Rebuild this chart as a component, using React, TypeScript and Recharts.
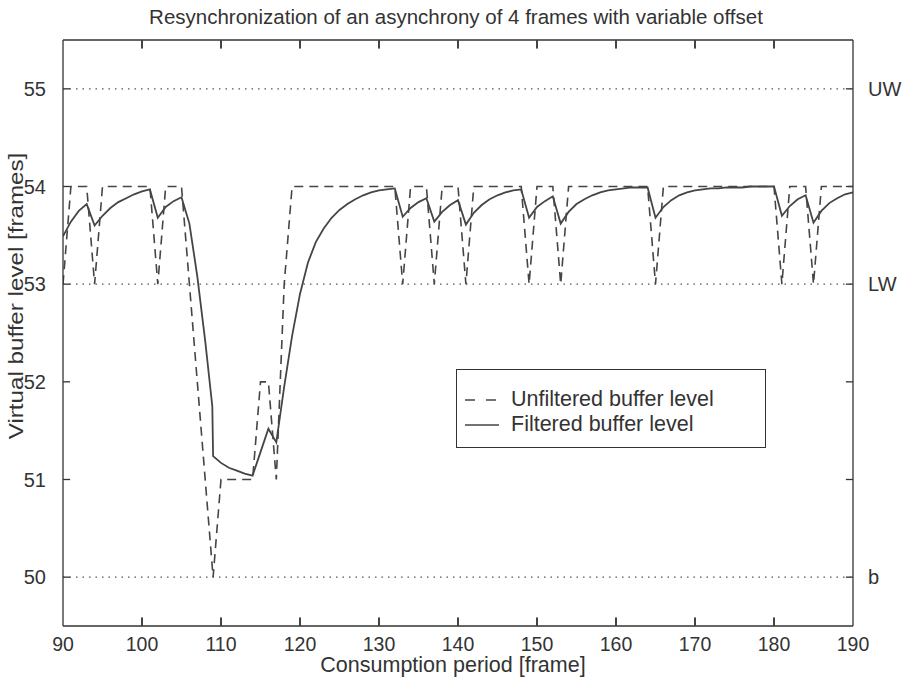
import React from "react";
import {
  LineChart,
  Line,
  XAxis,
  YAxis,
  ReferenceLine,
  Legend,
} from "recharts";

const frames = [
  90, 91, 92, 93, 94, 95, 96, 97, 98, 99, 100, 101, 102, 103, 104, 105, 106, 107, 108, 109,
  110, 111, 112, 113, 114, 115, 116, 117, 118, 119, 120, 121, 122, 123, 124, 125, 126, 127, 128, 129,
  130, 131, 132, 133, 134, 135, 136, 137, 138, 139, 140, 141, 142, 143, 144, 145, 146, 147, 148, 149,
  150, 151, 152, 153, 154, 155, 156, 157, 158, 159, 160, 161, 162, 163, 164, 165, 166, 167, 168, 169,
  170, 171, 172, 173, 174, 175, 176, 177, 178, 179, 180, 181, 182, 183, 184, 185, 186, 187, 188, 189,
  190,
];

const unfilteredLevel = [
  53, 54, 54, 54, 53, 54, 54, 54, 54, 54, 54, 54, 53, 54, 54, 54, 53, 52, 51, 50,
  51, 51, 51, 51, 51, 52, 52, 51, 53, 54, 54, 54, 54, 54, 54, 54, 54, 54, 54, 54,
  54, 54, 54, 53, 54, 54, 54, 53, 54, 54, 54, 53, 54, 54, 54, 54, 54, 54, 54, 53,
  54, 54, 54, 53, 54, 54, 54, 54, 54, 54, 54, 54, 54, 54, 54, 53, 54, 54, 54, 54,
  54, 54, 54, 54, 54, 54, 54, 54, 54, 54, 54, 53, 54, 54, 54, 53, 54, 54, 54, 54,
  54,
];

// filtered curve has an extra sample just before frame 109 (the near-vertical drop)
const filteredFrames = [
  90, 91, 92, 93, 94, 95, 96, 97, 98, 99, 100, 101, 102, 103, 104, 105, 106, 107, 108, 108.9, 109,
  110, 111, 112, 113, 114, 115, 116, 117, 118, 119, 120, 121, 122, 123, 124, 125, 126, 127, 128, 129,
  130, 131, 132, 133, 134, 135, 136, 137, 138, 139, 140, 141, 142, 143, 144, 145, 146, 147, 148, 149,
  150, 151, 152, 153, 154, 155, 156, 157, 158, 159, 160, 161, 162, 163, 164, 165, 166, 167, 168, 169,
  170, 171, 172, 173, 174, 175, 176, 177, 178, 179, 180, 181, 182, 183, 184, 185, 186, 187, 188, 189,
  190,
];

const filteredLevel = [
  53.49, 53.64, 53.75, 53.82, 53.6, 53.7, 53.78, 53.84, 53.88, 53.92, 53.95, 53.97, 53.68, 53.79, 53.85, 53.89, 53.62, 53.08, 52.42, 51.75, 51.24,
  51.17, 51.12, 51.09, 51.06, 51.04, 51.28, 51.52, 51.38, 51.95, 52.47, 52.9, 53.22, 53.43, 53.57, 53.68, 53.76, 53.82, 53.87, 53.91, 53.94,
  53.96, 53.97, 53.98, 53.69, 53.78, 53.84, 53.88, 53.64, 53.74, 53.81, 53.86, 53.61, 53.73, 53.81, 53.87, 53.91, 53.94, 53.96, 53.97, 53.68,
  53.79, 53.85, 53.9, 53.62, 53.74, 53.82, 53.87, 53.91, 53.94, 53.96, 53.97, 53.98, 53.99, 53.99, 53.99, 53.68, 53.79, 53.86, 53.91, 53.94,
  53.96, 53.97, 53.98, 53.98, 53.99, 53.99, 53.99, 54, 54, 54, 54, 53.7, 53.8, 53.87, 53.91, 53.63, 53.75, 53.83, 53.88, 53.92,
  53.94,
];

const xTicks = [90, 100, 110, 120, 130, 140, 150, 160, 170, 180, 190];
const yTicks = [50, 51, 52, 53, 54, 55];
const thresholds = [
  { level: 55, name: "UW" },
  { level: 53, name: "LW" },
  { level: 50, name: "b" },
];

const unfilteredData = frames.map((frame, i) => ({ frame, level: unfilteredLevel[i] }));
const filteredData = filteredFrames.map((frame, i) => ({ frame, level: filteredLevel[i] }));

const ink = "#333";
const lineInk = "#454545";
const font = "'Liberation Sans', Arial, Helvetica, sans-serif";
const xDomain = [90, 190];
const yDomain = [49.5, 55.5];
const xTickLen = 0.9; // ~7px in frame units, for the left/right inward ticks
const yTickLen = 0.08; // ~8px in level units, for the top/bottom inward ticks

const PLOT_TOP = 40;
const X_AXIS_H = 55;
const PLOT_H = 681 - PLOT_TOP - X_AXIS_H;
const TICK_SIZE = 6;
const TICK_MARGIN = 5;

// bottom tick label, plus inward tick marks on the bottom and top edges
function FrameTick(props: any) {
  const { x, y, payload } = props;
  const edge = y - TICK_SIZE - TICK_MARGIN; // bottom edge of the plot
  const inner = payload.value !== xDomain[0] && payload.value !== xDomain[1];
  return (
    <g>
      {inner && <rect x={x - 0.7} y={edge - 8} width={1.4} height={8} fill={ink} />}
      {inner && <rect x={x - 0.7} y={edge - PLOT_H} width={1.4} height={8} fill={ink} />}
      <text x={x} y={y} dy="0.71em" textAnchor="middle" fill={ink} fontSize={19.5} fontFamily={font}>
        {payload.value}
      </text>
    </g>
  );
}

function LegendBox(props: any) {
  const payload = [...(props.payload || [])].sort((a: any, b: any) =>
    a.value.startsWith("Unfiltered") ? -1 : b.value.startsWith("Unfiltered") ? 1 : 0
  );
  return (
    <div
      style={{
        width: 310,
        height: 79,
        boxSizing: "border-box",
        border: `1.5px solid ${ink}`,
        background: "#fff",
        paddingTop: 17,
        fontFamily: font,
        fontSize: 21.5,
        color: ink,
      }}
    >
      {payload.map((entry: any) => (
        <div key={entry.value} style={{ display: "flex", alignItems: "center", height: 25 }}>
          <svg width={48} height={10} style={{ marginLeft: 6 }}>
            <line
              x1={2}
              x2={36}
              y1={5}
              y2={5}
              stroke={lineInk}
              strokeWidth={1.6}
              strokeDasharray={entry.value.startsWith("Unfiltered") ? "10 11" : undefined}
            />
          </svg>
          <span>{entry.value}</span>
        </div>
      ))}
    </div>
  );
}

function YTitle(props: any) {
  const vb = props.viewBox || { x: 0, y: 40, width: 63, height: 586 };
  const cx = vb.x + 16;
  const cy = vb.y + vb.height / 2 - 37;
  return (
    <text
      x={0}
      y={0}
      transform={`translate(${cx}, ${cy}) rotate(-90) scale(1.24, 1)`}
      textAnchor="middle"
      dominantBaseline="central"
      fill={ink}
      fontSize={19.5}
      fontFamily={font}
    >
      Virtual buffer level [frames]
    </text>
  );
}

export default function App() {
  const innerX = xTicks.slice(1, -1);
  return (
    <div style={{ position: "absolute", left: 0, top: 0, width: 909, height: 681, background: "#fff", fontFamily: font }}>
      <div
        style={{
          position: "absolute",
          top: 5,
          left: 0,
          width: 912,
          textAlign: "center",
          fontSize: 20.5,
          color: ink,
        }}
      >
        Resynchronization of an asynchrony of 4 frames with variable offset
      </div>
      <LineChart width={909} height={681} margin={{ top: PLOT_TOP, right: 0, bottom: 0, left: 0 }}>
        <XAxis
          xAxisId="bottom"
          type="number"
          dataKey="frame"
          domain={xDomain}
          ticks={xTicks}
          interval={0}
          allowDataOverflow
          height={X_AXIS_H}
          tickLine={false}
          tickSize={TICK_SIZE}
          tickMargin={TICK_MARGIN}
          stroke={ink}
          strokeWidth={1.3}
          tick={<FrameTick />}
          label={{ value: "Consumption period [frame]", position: "insideBottom", offset: 9, dx: -5, fill: ink, fontSize: 21.5, fontFamily: font }}
        />
        <YAxis
          yAxisId="left"
          type="number"
          domain={yDomain}
          ticks={yTicks}
          allowDataOverflow
          width={63}
          tickLine={false}
          tickSize={6}
          tickMargin={11}
          stroke={ink}
          strokeWidth={1.3}
          tick={{ fill: ink, fontSize: 20, fontFamily: font }}
          label={<YTitle />}
        />
        {/* top and right edges of the box */}
        <XAxis
          xAxisId="top"
          orientation="top"
          mirror
          type="number"
          domain={xDomain}
          ticks={xTicks}
          allowDataOverflow
          height={1}
          tickLine={false}
          tick={false}
          stroke={ink}
          strokeWidth={1.3}
        />
        <YAxis
          yAxisId="right"
          orientation="right"
          mirror
          type="number"
          domain={yDomain}
          ticks={yTicks}
          allowDataOverflow
          width={1}
          tickLine={false}
          tick={false}
          stroke={ink}
          strokeWidth={1.3}
        />
        <YAxis yAxisId="rightSpace" orientation="right" width={56} tick={false} tickLine={false} axisLine={false} domain={yDomain} allowDataOverflow />

        {/* inward tick marks: top/bottom (backup for the ones drawn by FrameTick) and left/right */}
        {innerX.map((v) => (
          <ReferenceLine
            key={`tb${v}`}
            xAxisId="bottom"
            yAxisId="left"
            ifOverflow="visible"
            segment={[{ x: v, y: 49.51 }, { x: v, y: 49.51 + yTickLen }]}
            stroke={ink}
            strokeWidth={1.4}
          />
        ))}
        {innerX.map((v) => (
          <ReferenceLine
            key={`tt${v}`}
            xAxisId="bottom"
            yAxisId="left"
            ifOverflow="visible"
            segment={[{ x: v, y: 55.49 }, { x: v, y: 55.49 - yTickLen }]}
            stroke={ink}
            strokeWidth={1.4}
          />
        ))}
        {yTicks.map((v) => (
          <ReferenceLine
            key={`tl${v}`}
            xAxisId="bottom"
            yAxisId="left"
            ifOverflow="visible"
            segment={[{ x: xDomain[0], y: v }, { x: xDomain[0] + xTickLen, y: v }]}
            stroke={ink}
            strokeWidth={1.3}
          />
        ))}
        {yTicks.map((v) => (
          <ReferenceLine
            key={`tr${v}`}
            xAxisId="bottom"
            yAxisId="left"
            ifOverflow="visible"
            segment={[{ x: xDomain[1], y: v }, { x: xDomain[1] - xTickLen, y: v }]}
            stroke={ink}
            strokeWidth={1.3}
          />
        ))}

        {thresholds.map((t) => (
          <ReferenceLine
            key={t.name}
            xAxisId="bottom"
            yAxisId="left"
            y={t.level}
            stroke="#555"
            strokeWidth={1.3}
            strokeDasharray="1.5 5"
            label={{ value: t.name, position: "right", offset: 15, fill: ink, fontSize: 20, fontFamily: font }}
          />
        ))}
        <Line
          xAxisId="bottom"
          yAxisId="left"
          data={unfilteredData}
          dataKey="level"
          name="Unfiltered buffer level"
          type="linear"
          stroke={lineInk}
          strokeWidth={1.6}
          strokeDasharray="9 6"
          dot={false}
          activeDot={false}
          isAnimationActive={false}
        />
        <Line
          xAxisId="bottom"
          yAxisId="left"
          data={filteredData}
          dataKey="level"
          name="Filtered buffer level"
          type="linear"
          stroke={lineInk}
          strokeWidth={1.8}
          dot={false}
          activeDot={false}
          isAnimationActive={false}
        />
        <Legend
          layout="vertical"
          align="center"
          verticalAlign="middle"
          content={<LegendBox />}
          wrapperStyle={{ position: "absolute", left: 456, top: 369, width: 310, height: 79 }}
        />
      </LineChart>
    </div>
  );
}
